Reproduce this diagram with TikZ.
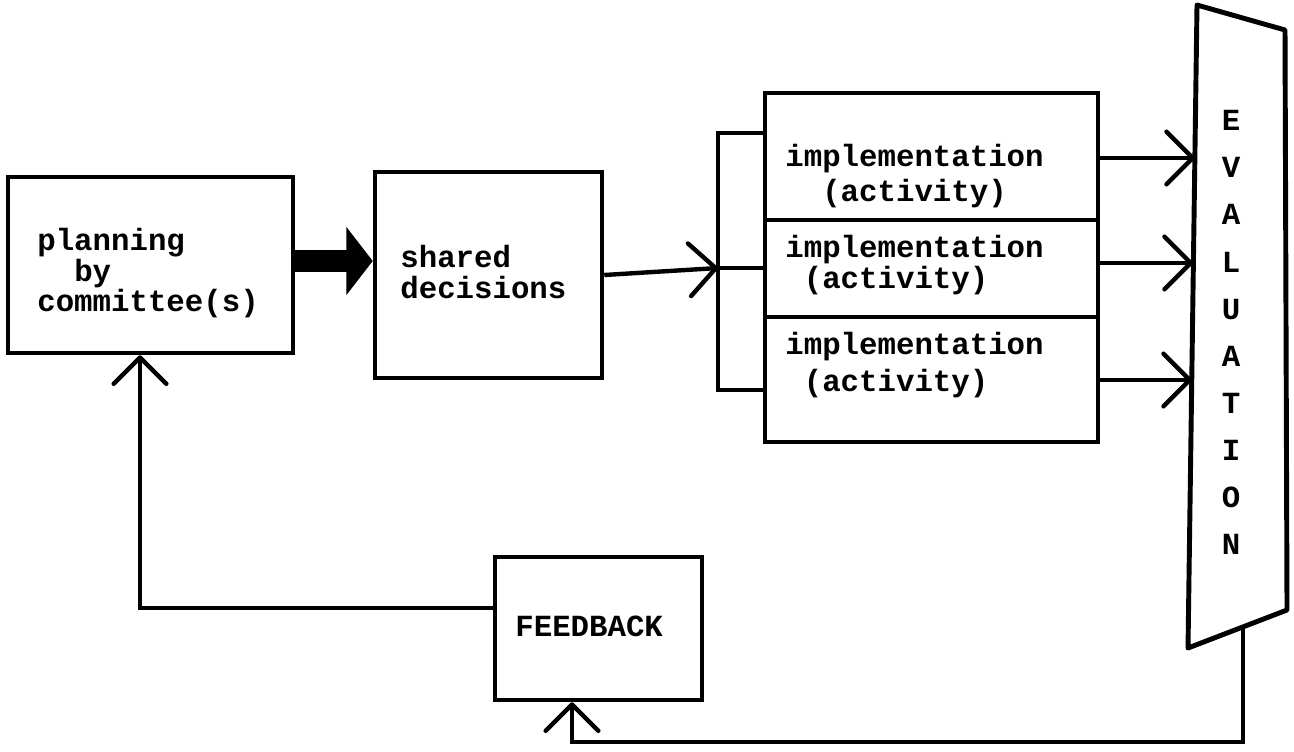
\documentclass[tikz,border=0pt]{standalone}
\usepackage{fontspec}
\setmonofont{Liberation Mono}
\usepackage{tikz}
\usetikzlibrary{arrows.meta}
\tikzset{
  txt/.style={font=\ttfamily\bfseries\fontsize{17.5}{17.5}\selectfont,align=left,inner sep=0pt,anchor=west},
  blk/.style={draw,rectangle,line width=2.6pt,inner sep=0pt},
  wire/.style={line width=2.5pt},
  barb/.style={wire,-{Straight Barb[length=15pt,width=30pt,round]}},
  fat/.style={line width=13pt,-{Triangle[length=15pt,width=38pt]}},
}

\begin{document}
\begin{tikzpicture}[x=0.02cm,y=-0.02cm]
  \useasboundingbox (0,0) rectangle (1294,751);
  % boxes
  \node[blk,minimum width=5.70cm,minimum height=3.52cm] (plan) at (150.5,265) {};
  \node[blk,minimum width=4.54cm,minimum height=4.12cm] (shared) at (488.5,275) {};
  \node[blk,minimum width=6.66cm,minimum height=2.54cm] (impl1) at (931.5,156.5) {};
  \node[blk,minimum width=6.66cm,minimum height=1.94cm] (impl2) at (931.5,268.5) {};
  \node[blk,minimum width=6.66cm,minimum height=2.50cm] (impl3) at (931.5,379.5) {};
  \node[blk,minimum width=4.14cm,minimum height=2.86cm] (fback) at (598.5,628.5) {};
  % texts
  \node[txt] (plantxt) at (37,273)
    {planning\\[0pt]\phantom{pl}by\\[-0.5pt]committee(s)};
  \node[txt] (sharedtxt) at (400,272) {shared\\[0.5pt]decisions};
  \node[txt] (impltxt1) at (785,176) {implementation\\[2.5pt]\phantom{im}(activity)};
  \node[txt] (impltxt2) at (785,265) {implementation\\[0.5pt]\phantom{i}(activity)};
  \node[txt] (impltxt3) at (785,365) {implementation\\[3.5pt]\phantom{i}(activity)};
  \node[txt] (fbtxt) at (515,626) {FEEDBACK};
  % evaluation
  \coordinate (evtl) at (1197,5);
  \coordinate (evtr) at (1285,30);
  \coordinate (evbr) at (1287,610);
  \coordinate (evbl) at (1188,648);
  \draw[line width=2.8pt,line join=round] (evtl) -- (evtr) -- (evbr) -- (evbl) -- cycle;
  \node[txt,align=center,anchor=center,font=\ttfamily\bfseries\fontsize{17.5}{26.8}\selectfont] (evlbl) at (1231,332.5)
    {E\\V\\A\\L\\U\\A\\T\\I\\O\\N};
  % connectors
  \draw[fat] (plan.east |- 0,261) -- (shared.west |- 0,261);
  \coordinate (fork) at (718,268);
  \coordinate (brtop) at (718,133);
  \coordinate (brbot) at (718,390);
  \draw[barb] (shared.east) -- (fork);
  \draw[wire] (fork) -- (fork -| impl2.west);
  \draw[wire] (brtop -| impl1.west) -- (brtop) -- (brbot) -- (brbot -| impl3.west);
  \coordinate (ev1) at (1195,158);
  \coordinate (ev2) at (1193,263);
  \coordinate (ev3) at (1192,380);
  \draw[barb] (ev1 -| impl1.east) -- (ev1);
  \draw[barb] (ev2 -| impl2.east) -- (ev2);
  \draw[barb] (ev3 -| impl3.east) -- (ev3);
  % feedback loop
  \coordinate (evout) at (1243,627);
  \coordinate (fbin) at (572,742);
  \draw[barb] (evout) |- (fbin) -- (fbin |- fback.south);
  \coordinate (fbleft) at (140,608);
  \draw[barb] (fbleft -| fback.west) -- (fbleft) -- (fbleft |- plan.south);
\end{tikzpicture}
\end{document}
